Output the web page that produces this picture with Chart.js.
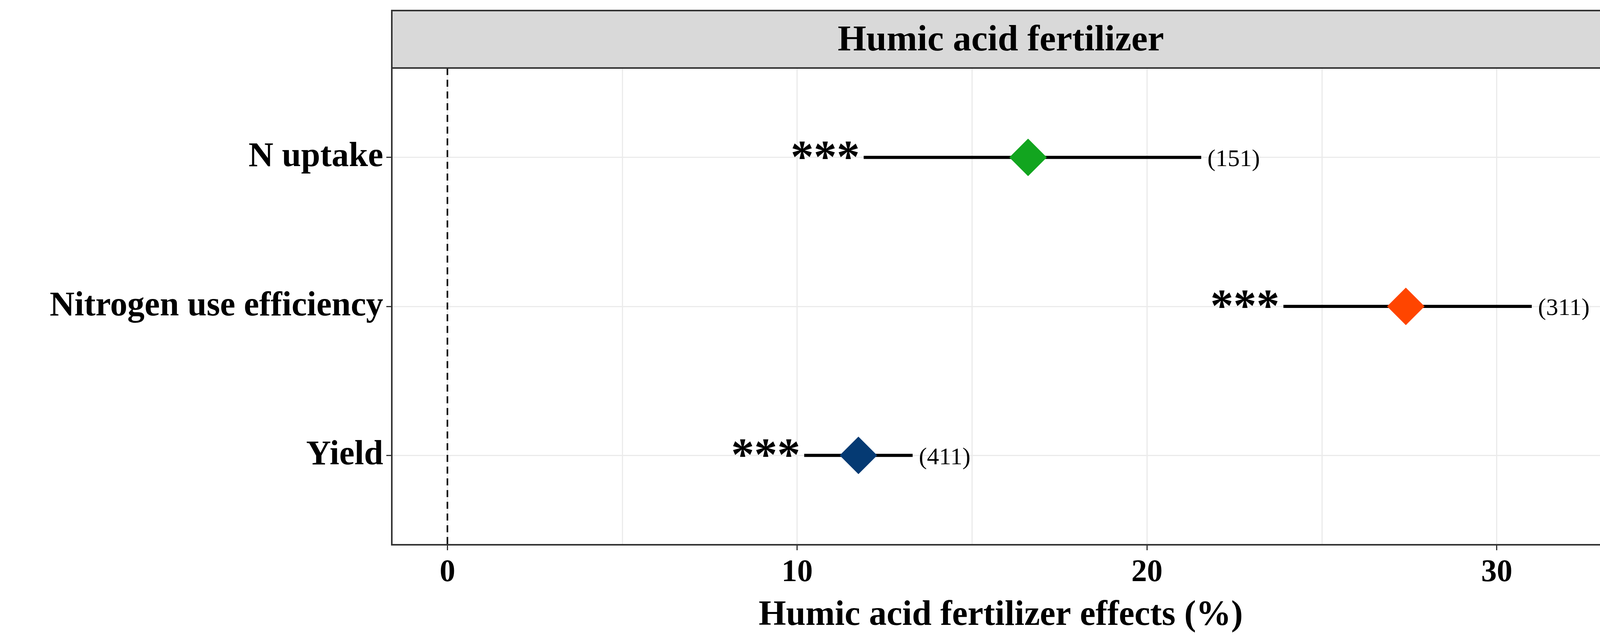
<!DOCTYPE html>
<html><head><meta charset="utf-8">
<script src="https://cdn.jsdelivr.net/npm/chart.js@4"></script>
<style>html,body{margin:0;padding:0;background:#fff;overflow:hidden}#w{width:4183px;height:1630px}canvas{display:block}</style>
</head><body><div id="w"><canvas id="c" width="4183" height="1630" style="width:4183px;height:1630px"></canvas></div>
<script>
const categories = ["Yield", "Nitrogen use efficiency", "N uptake"];
const means = [11.75, 27.4, 16.6];
const lower = [10.2, 23.9, 11.9];
const upper = [13.3, 31.0, 21.55];
const counts = ["(411)", "(311)", "(151)"];
const signif = ["***", "***", "***"];
const colors = ["#053A73", "#FF4500", "#12A51F"];
const xTicks = [0, 10, 20, 30];
const title = "Humic acid fertilizer";
const xTitle = "Humic acid fertilizer effects (%)";
const FONT = "'Liberation Serif','Times New Roman',serif";

const datasets = [];
categories.forEach((c, i) => {
  datasets.push({type:'line', data:[{x:lower[i], y:i+1},{x:upper[i], y:i+1}], borderColor:'#000', borderWidth:8, pointRadius:0, order:2});
});
datasets.push({type:'scatter', data: means.map((m,i)=>({x:m, y:i+1})), pointStyle:'rectRot', pointRadius:48, pointHoverRadius:48, backgroundColor:colors, borderColor:colors, borderWidth:0, order:1});

const deco = {
  id:'deco',
  beforeDatasetsDraw(ch){
    const {ctx, chartArea:a, scales:{x}} = ch;
    ctx.save();
    ctx.strokeStyle='#000'; ctx.lineWidth=4; ctx.setLineDash([18,12]);
    const x0 = x.getPixelForValue(0);
    ctx.beginPath(); ctx.moveTo(x0,a.top); ctx.lineTo(x0,a.bottom); ctx.stroke();
    ctx.restore();
  },
  afterDraw(ch){
    const {ctx, chartArea:a, scales:{x,y}} = ch;
    ctx.save();
    ctx.fillStyle='#D9D9D9'; ctx.fillRect(a.left, 27, a.right-a.left, a.top-27);
    ctx.strokeStyle='#333'; ctx.lineWidth=4;
    ctx.strokeRect(a.left, 27, a.right-a.left, a.top-27);
    ctx.strokeRect(a.left, a.top, a.right-a.left, a.bottom-a.top);
    ctx.fillStyle='#000'; ctx.font="bold 94px "+FONT; ctx.textAlign='center'; ctx.textBaseline='middle';
    ctx.fillText(title, (a.left+a.right)/2, (27+a.top)/2+4);
    categories.forEach((c,i)=>{
      const py = y.getPixelForValue(i+1);
      ctx.font="bold 118px "+FONT; ctx.textAlign='right'; ctx.textBaseline='alphabetic';
      ctx.fillText(signif[i], x.getPixelForValue(lower[i])-10, py+38);
      ctx.font="62px "+FONT; ctx.textAlign='left'; ctx.textBaseline='middle';
      ctx.fillText(counts[i], x.getPixelForValue(upper[i])+16, py+6);
    });
    ctx.restore();
  }
};

new Chart(document.getElementById('c'), {
  data:{datasets},
  options:{
    responsive:false, animation:false, maintainAspectRatio:false, devicePixelRatio:1,
    layout:{padding:{top:174, right:62, left:0, bottom:0}},
    plugins:{legend:{display:false}, tooltip:{enabled:false}},
    scales:{
      x:{type:'linear', min:-1.59, max:33.23,
        afterBuildTicks(s){ s.ticks=[0,5,10,15,20,25,30].map(v=>({value:v})); },
        afterFit(s){ s.height=236; },
        grid:{color:'#EBEBEB', lineWidth:3, tickLength:14,
          tickColor:(c)=> xTicks.includes(c.tick && c.tick.value) ? '#333' : 'rgba(0,0,0,0)'},
        border:{display:false},
        ticks:{autoSkip:false, maxRotation:0, color:'#000', padding:10, font:{family:FONT, size:80, weight:'bold'},
          callback:(v)=> xTicks.includes(v) ? String(v) : ''},
        title:{display:true, text:xTitle, color:'#000', font:{family:FONT, size:90, weight:'bold'}, padding:{top:0,bottom:0}}
      },
      y:{type:'linear', min:0.4, max:3.6,
        afterBuildTicks(s){ s.ticks=categories.map((c,i)=>({value:i+1})); },
        afterFit(s){ s.width=1003; },
        grid:{color:'#EBEBEB', lineWidth:3, tickLength:14, tickColor:'#333'},
        border:{display:false},
        ticks:{autoSkip:false, color:'#000', padding:8, font:{family:FONT, size:88, weight:'bold'},
          callback:(v)=> categories[v-1] || ''}
      }
    }
  },
  plugins:[deco]
});
</script></body></html>
